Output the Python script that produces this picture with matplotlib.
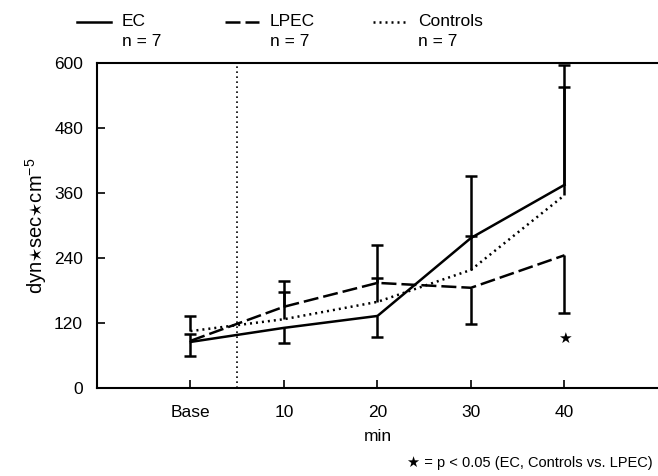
import matplotlib
matplotlib.use("Agg")
import matplotlib.pyplot as plt
from matplotlib.lines import Line2D

plt.rcParams['font.family'] = ['Liberation Sans', 'DejaVu Sans']
plt.rcParams['mathtext.fontset'] = 'custom'
plt.rcParams['mathtext.rm'] = 'Liberation Sans'
plt.rcParams['mathtext.it'] = 'Liberation Sans:italic'
plt.rcParams['mathtext.fallback'] = 'stixsans'

# ---- data ----
x_pos = [0, 10, 20, 30, 40]
x_labels = ['Base', '10', '20', '30', '40']
y_ticks = [0, 120, 240, 360, 480, 600]

ec = [85, 111, 133, 277, 375]
ec_up = [0, 0, 0, 114, 221]
ec_dn = [26, 28, 39, 0, 0]

lpec = [87, 150, 194, 185, 245]
lpec_up = [13, 48, 70, 0, 0]
lpec_dn = [0, 0, 0, 67, 107]

ctrl = [105, 127, 159, 218, 356]
ctrl_up = [27, 50, 44, 63, 200]
ctrl_dn = [0, 0, 0, 0, 0]

sig_x = [40]
sig_y = [92]

series = [
    ('EC', ec, ec_up, ec_dn, '-'),
    ('LPEC', lpec, lpec_up, lpec_dn, (0, (6, 2))),
    ('Controls', ctrl, ctrl_up, ctrl_dn, (0, (0.8, 1.6))),
]

fig = plt.figure(figsize=(6.58, 4.76), dpi=100)
ax = fig.add_axes([0.1474, 0.1849, 0.8526, 0.6828])

lw = 1.8
for name, vals, up, dn, ls in series:
    ax.plot(x_pos, vals, color='black', lw=lw, linestyle=ls)
    for xi, v, u, d in zip(x_pos, vals, up, dn):
        if u > 0:
            ax.vlines(xi, v, v + u, color='black', lw=1.8)
            ax.plot([xi], [v + u], marker='_', ms=9, mew=1.8, color='black', ls='none')
        if d > 0:
            ax.vlines(xi, v - d, v, color='black', lw=1.8)
            ax.plot([xi], [v - d], marker='_', ms=9, mew=1.8, color='black', ls='none')

# vertical dotted separator between baseline and intervention
ax.axvline(5, color='black', lw=1.2, linestyle=(0, (1, 2)))

for sx, sy in zip(sig_x, sig_y):
    ax.text(sx, sy, '★', ha='center', va='center', fontsize=11,
            family=['DejaVu Sans'])

ax.set_xlim(-10, 50)
ax.set_ylim(0, 600)
ax.set_xticks(x_pos)
ax.set_xticklabels(x_labels)
ax.set_yticks(y_ticks)
ax.tick_params(direction='in', length=6, width=1.2, labelsize=12.5)
ax.tick_params(axis='x', pad=12)
ax.tick_params(axis='y', pad=10)
for s in ['left', 'bottom', 'top']:
    ax.spines[s].set_linewidth(1.5)
ax.spines['right'].set_visible(False)

ax.set_xlabel('min', fontsize=12.5, labelpad=7)
ax.set_ylabel(r'dyn$\star$sec$\star$cm$^{-5}$', fontsize=14.5, labelpad=4)

# legend (manual, top of figure)
leg_items = [('EC', '-', 77, 122),
             ('LPEC', (0, (6, 2)), 225, 270),
             ('Controls', (0, (0.8, 1.6)), 373, 418)]
W, H = 658, 476
for label, ls, lx, tx in leg_items:
    fig.add_artist(Line2D([lx / W, (lx + 34) / W], [1 - 22 / H, 1 - 22 / H],
                          color='black', lw=lw, linestyle=ls))
    fig.text(tx / W, 1 - 22 / H, label, fontsize=12.5, va='center', ha='left')
    fig.text(tx / W, 1 - 42 / H, 'n = 7', fontsize=12.5, va='center', ha='left')

fig.text(653 / W, 1 - 463 / H, '★ = p < 0.05 (EC, Controls vs. LPEC)',
         ha='right', va='center', fontsize=10.5)

fig.savefig('out.png', dpi=100)
